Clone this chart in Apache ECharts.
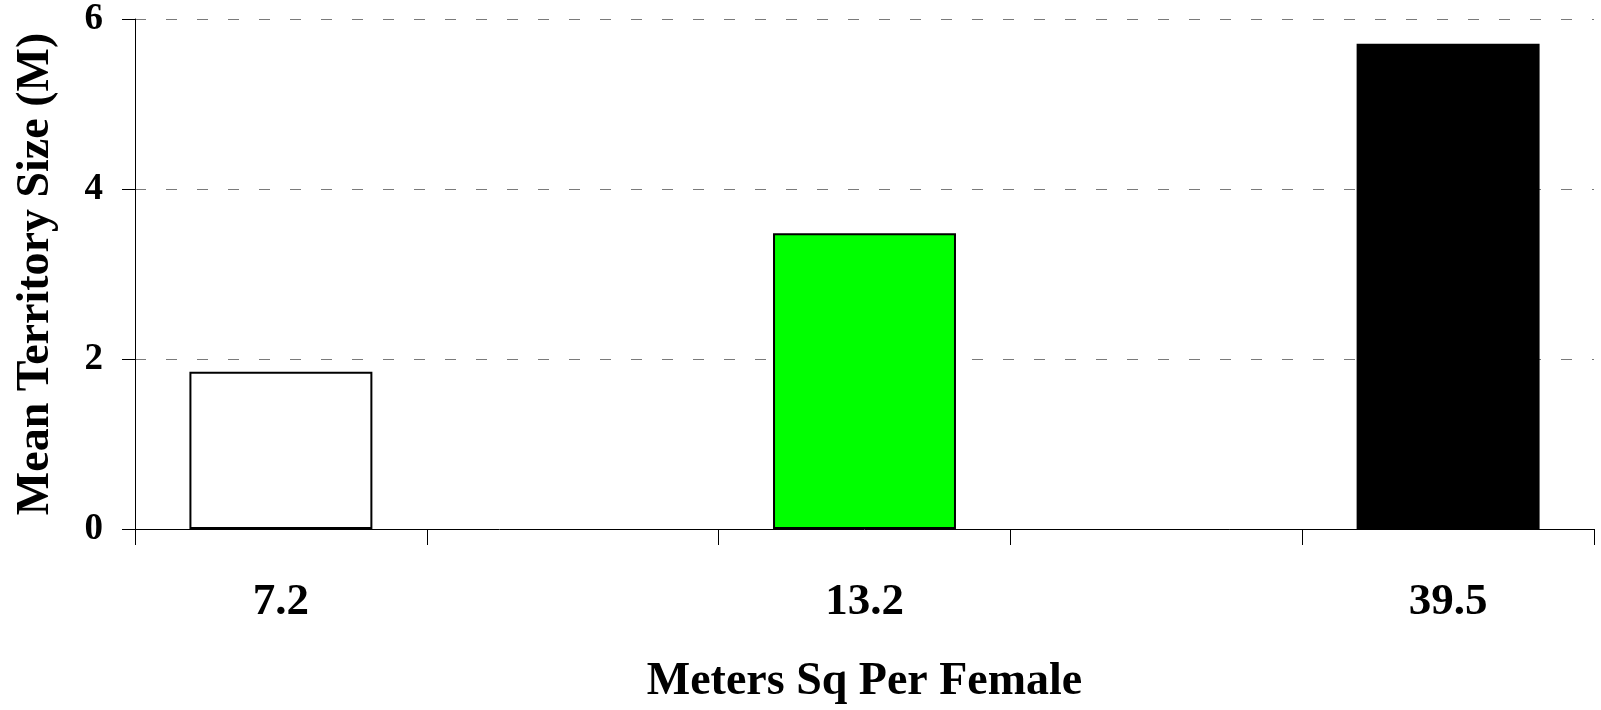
<!DOCTYPE html>
<html>
<head>
<meta charset="utf-8">
<script src="https://cdn.jsdelivr.net/npm/echarts@6/dist/echarts.min.js"></script>
<style>
  html, body { margin: 0; padding: 0; background: #fff; }
  #chart { width: 1601px; height: 710px; }
</style>
</head>
<body>
<div id="chart"></div>
<script>
// Density groups (m² per female); blank slots keep the wide spacing between groups
const categories = ['7.2', '', '13.2', '', '39.5'];
// Mean territory size for each group ('-' = empty slot)
const territorySize = [1.85, '-', 3.48, '-', 5.71];
const barColors = ['#ffffff', null, '#00ff00', null, '#000000'];
const yTicks = { min: 0, max: 6, interval: 2 };

const FONT = '"Liberation Serif", "Times New Roman", serif';

const seriesData = territorySize.map((v, i) =>
  v === '-' ? '-' : {
    value: v,
    itemStyle: { color: barColors[i], borderColor: '#000', borderWidth: 2 }
  }
);

const chart = echarts.init(document.getElementById('chart'), null, { renderer: 'canvas' });
chart.setOption({
  animation: false,
  backgroundColor: '#ffffff',
  grid: { left: 135, right: 7, top: 19, bottom: 179, containLabel: false },
  xAxis: {
    type: 'category',
    data: categories,
    boundaryGap: true,
    name: 'Meters Sq Per Female',
    nameLocation: 'middle',
    nameGap: 130,
    nameTextStyle: { fontFamily: FONT, fontWeight: 'bold', fontSize: 46, color: '#000' },
    axisLine: { show: true, lineStyle: { color: '#000', width: 1 } },
    axisTick: { show: true, inside: false, length: 16, alignWithLabel: false, interval: 0, lineStyle: { color: '#000', width: 1 } },
    axisLabel: { interval: 0, margin: 51, fontFamily: FONT, fontWeight: 'bold', fontSize: 45, color: '#000' },
    splitLine: { show: false }
  },
  yAxis: {
    type: 'value',
    min: yTicks.min,
    max: yTicks.max,
    interval: yTicks.interval,
    name: 'Mean Territory Size (M)',
    nameLocation: 'middle',
    nameGap: 76,
    nameTextStyle: { fontFamily: FONT, fontWeight: 'bold', fontSize: 46, color: '#000' },
    axisLine: { show: true, lineStyle: { color: '#000', width: 1 } },
    axisTick: { show: true, inside: false, length: 13, lineStyle: { color: '#000', width: 1 } },
    axisLabel: { margin: 32, fontFamily: FONT, fontWeight: 'bold', fontSize: 37, color: '#000' },
    splitLine: { show: true, lineStyle: { color: '#7a7a7a', width: 1, type: [11, 20] } }
  },
  series: [{
    type: 'bar',
    data: seriesData,
    barWidth: '62.7%'
  }]
});
</script>
</body>
</html>
